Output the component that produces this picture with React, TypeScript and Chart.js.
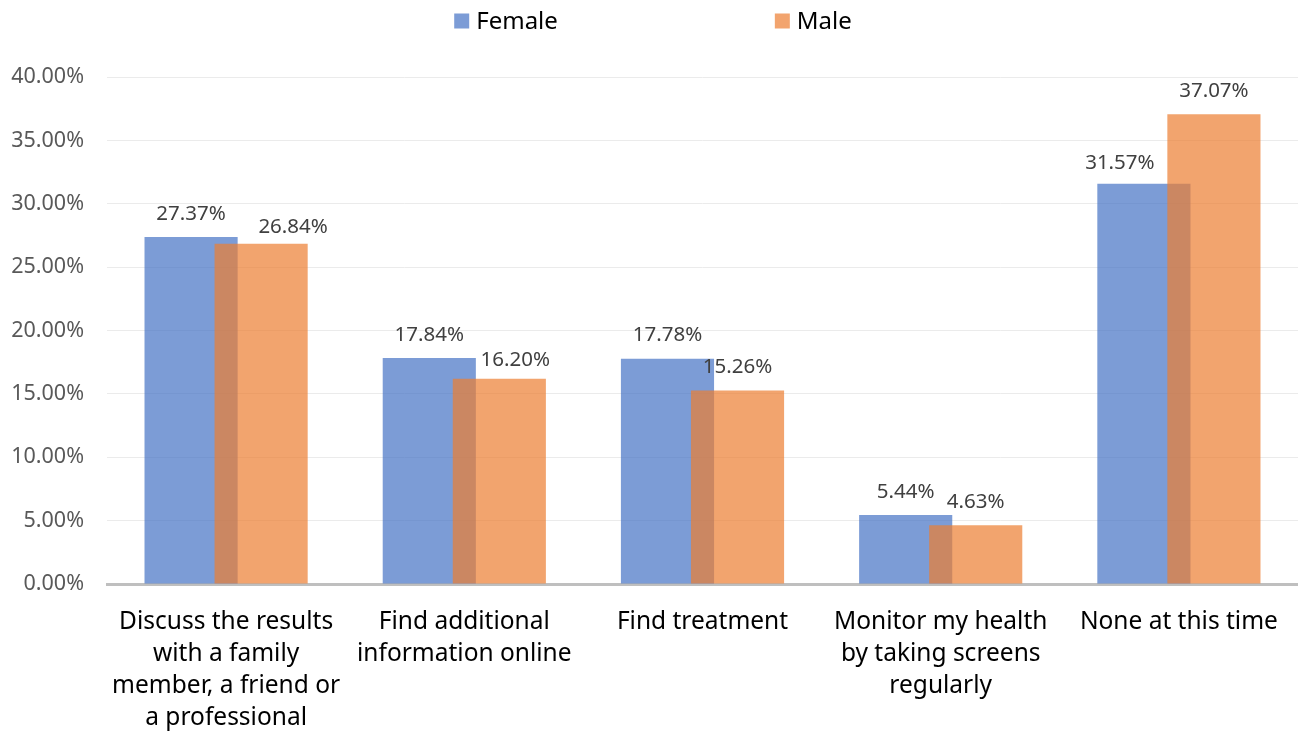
import React, { useEffect, useRef } from "react";
import { Chart, registerables } from "chart.js";

Chart.register(...registerables);

const categories: string[][] = [
  ["Discuss the results", "with a family", "member, a friend or", "a professional"],
  ["Find additional", "information online"],
  ["Find treatment"],
  ["Monitor my health", "by taking screens", "regularly"],
  ["None at this time"],
];
const femaleValues = [27.37, 17.84, 17.78, 5.44, 31.57];
const maleValues = [26.84, 16.2, 15.26, 4.63, 37.07];
const seriesNames = ["Female", "Male"];
const yTickStep = 5;
const yMax = 40;

// Hand-placed nudges [dx, dy] for value labels that would otherwise collide
const femaleLabelNudge = [[0, 0], [0, 0], [0, 0], [0, 0], [-24, 2]];
const maleLabelNudge = [[32, 6], [16, 4], [0, 0], [0, 0], [0, 0]];
const labelNudges = [femaleLabelNudge, maleLabelNudge];

const FONT = "'Noto Sans', 'Open Sans', sans-serif";
const femaleColor = "rgba(68,114,196,0.7)";
const maleColor = "rgba(237,125,49,0.7)";

// Draw the second series after the first so it sits on top where bars overlap,
// then put value labels above each bar
const overlayAndLabels = {
  id: "overlayAndLabels",
  beforeDatasetDraw(chart: any, args: any) {
    if (args.index === 1) return false;
    return true;
  },
  afterDatasetsDraw(chart: any) {
    const ctx = chart.ctx;
    const area = chart.chartArea;
    ctx.save();
    ctx.beginPath();
    ctx.rect(area.left, area.top, area.right - area.left, area.bottom - area.top);
    ctx.clip();
    chart.getDatasetMeta(1).controller.draw();
    ctx.restore();

    ctx.save();
    ctx.font = `20.5px ${FONT}`;
    ctx.fillStyle = "#404040";
    ctx.textAlign = "center";
    ctx.textBaseline = "middle";
    chart.data.datasets.forEach((ds: any, di: number) => {
      const meta = chart.getDatasetMeta(di);
      meta.data.forEach((el: any, i: number) => {
        const v = ds.data[i] as number;
        const [dx, dy] = labelNudges[di][i];
        ctx.fillText(v.toFixed(2) + "%", el.x + dx, el.y - 23 + dy);
      });
    });
    ctx.restore();
  },
};

// Legend row across the top, items spread apart
const topLegend = {
  id: "topLegend",
  afterDraw(chart: any) {
    const ctx = chart.ctx;
    ctx.save();
    ctx.font = `24px ${FONT}`;
    ctx.textBaseline = "middle";
    const box = 15;
    const gap = 7;
    const spacing = 217;
    const items = chart.data.datasets.map((ds: any) => ({
      label: ds.label as string,
      color: ds.backgroundColor as string,
      w: box + gap + ctx.measureText(ds.label).width,
    }));
    const total =
      items.reduce((s: number, it: any) => s + it.w, 0) + spacing * (items.length - 1);
    let x = chart.width / 2 + 4 - total / 2;
    const y = 21;
    items.forEach((it: any) => {
      ctx.fillStyle = it.color;
      ctx.fillRect(x, y - box / 2, box, box);
      ctx.fillStyle = "#000000";
      ctx.textAlign = "left";
      ctx.fillText(it.label, x + box + gap, y + 1);
      x += it.w + spacing;
    });
    ctx.restore();
  },
};

export default function App() {
  const canvasRef = useRef<HTMLCanvasElement | null>(null);

  useEffect(() => {
    document.body.style.margin = "0";
    const canvas = canvasRef.current;
    if (!canvas) return;
    const chart = new Chart(canvas, {
      type: "bar",
      data: {
        labels: categories,
        datasets: [
          {
            label: seriesNames[0],
            data: femaleValues,
            backgroundColor: femaleColor,
            categoryPercentage: 0.588,
            barPercentage: 1.33,
          },
          {
            label: seriesNames[1],
            data: maleValues,
            backgroundColor: maleColor,
            categoryPercentage: 0.588,
            barPercentage: 1.33,
          },
        ],
      },
      options: {
        responsive: false,
        animation: false,
        layout: { padding: { top: 77, left: 0, right: 0, bottom: 0 } },
        plugins: {
          legend: { display: false },
          tooltip: { enabled: false },
        },
        scales: {
          x: {
            grid: { display: false },
            border: { display: true, color: "#BFBFBF", width: 3 },
            ticks: {
              color: "#000000",
              font: { family: FONT, size: 24.5, lineHeight: "32px" },
              padding: 14,
              autoSkip: false,
              maxRotation: 0,
            },
            afterFit: (scale: any) => {
              scale.height = 148;
              scale.paddingLeft = 0;
              scale.paddingRight = 0;
            },
          },
          y: {
            min: 0,
            max: yMax,
            grid: { color: "#EBEBEB", lineWidth: 1, drawTicks: false },
            border: { display: false },
            ticks: {
              stepSize: yTickStep,
              color: "#595959",
              font: { family: FONT, size: 21.5 },
              padding: 23,
              callback: (v: any) => Number(v).toFixed(2) + "%",
            },
            afterFit: (scale: any) => {
              scale.width = 107;
            },
          },
        },
      },
      plugins: [overlayAndLabels, topLegend],
    });
    return () => chart.destroy();
  }, []);

  return (
    <div style={{ position: "absolute", left: 0, top: 0, width: 1298, height: 732, background: "#ffffff" }}>
      <canvas ref={canvasRef} width={1298} height={732} />
    </div>
  );
}
